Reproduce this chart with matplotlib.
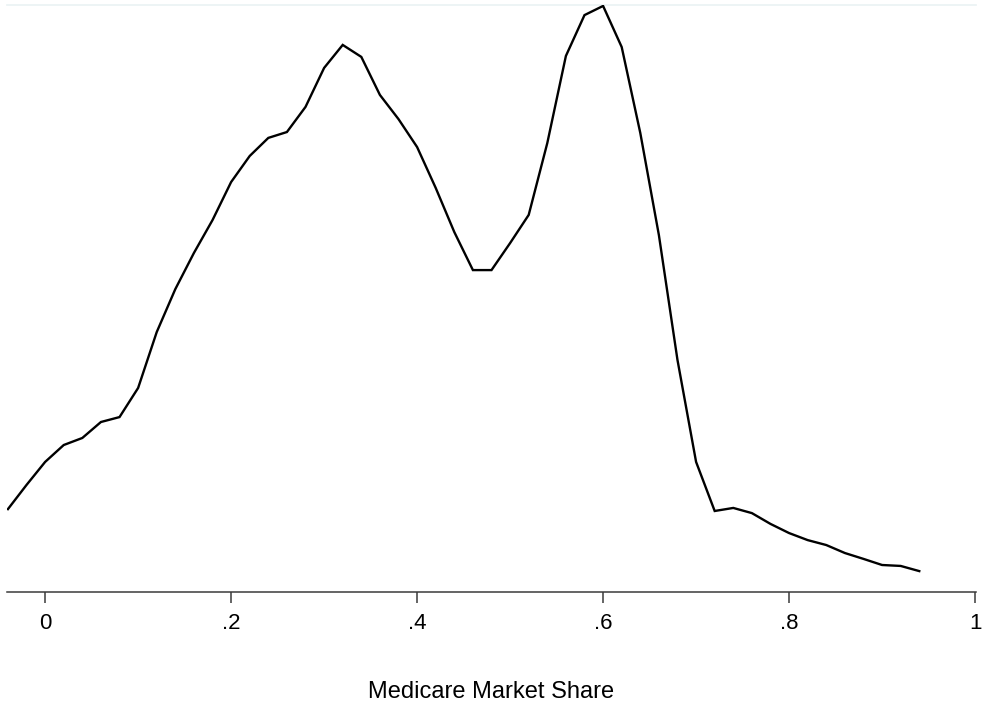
import matplotlib
matplotlib.use("Agg")
import matplotlib.pyplot as plt

# Medicare market share grid (x) and estimated density (y)
share = [-0.04, -0.02, 0.00, 0.02, 0.04, 0.06, 0.08, 0.10, 0.12, 0.14,
         0.16, 0.18, 0.20, 0.22, 0.24, 0.26, 0.28, 0.30, 0.32, 0.34,
         0.36, 0.38, 0.40, 0.42, 0.44, 0.46, 0.48, 0.50, 0.52, 0.54,
         0.56, 0.58, 0.60, 0.62, 0.64, 0.66, 0.68, 0.70, 0.72, 0.74,
         0.76, 0.78, 0.80, 0.82, 0.84, 0.86, 0.88, 0.90, 0.92, 0.94]
density = [0.353, 0.456, 0.554, 0.626, 0.656, 0.724, 0.745, 0.869, 1.107, 1.290,
           1.444, 1.584, 1.746, 1.857, 1.934, 1.959, 2.066, 2.232, 2.330, 2.279,
           2.117, 2.014, 1.895, 1.721, 1.533, 1.371, 1.371, 1.486, 1.606, 1.912,
           2.283, 2.457, 2.496, 2.321, 1.955, 1.520, 0.988, 0.554, 0.345, 0.358,
           0.336, 0.290, 0.251, 0.221, 0.200, 0.166, 0.141, 0.115, 0.111, 0.089]

xticks = [0, 0.2, 0.4, 0.6, 0.8, 1.0]
xtick_labels = ["0", ".2", ".4", ".6", ".8", "1"]
x_label = "Medicare Market Share"

plt.rcParams['font.family'] = ['Liberation Sans', 'DejaVu Sans']

W, H = 982, 709
fig = plt.figure(figsize=(W / 100, H / 100), dpi=100)
left_px, right_px, top_px, bottom_px = 7, 976, 5, 592
ax = fig.add_axes([left_px / W, (H - bottom_px) / H,
                   (right_px - left_px) / W, (bottom_px - top_px) / H])

ax.plot(share, density, color="black", lw=1.7, solid_joinstyle="miter")

ax.set_xlim(-0.041, 1.001)
ax.set_ylim(0, 2.5)
ax.axhline(2.5, color="#EAF2F3", lw=1.2, zorder=0, clip_on=False)

for s in ["left", "right", "top"]:
    ax.spines[s].set_visible(False)
ax.spines["bottom"].set_color("#3a3a3a")
ax.spines["bottom"].set_linewidth(1.1)

ax.set_yticks([])
ax.set_xticks(xticks)
ax.set_xticklabels(xtick_labels, fontsize=16)
ax.tick_params(axis="x", length=8, width=1.1, color="#3a3a3a", pad=7,
               labelcolor="black")

ax.set_xlabel(x_label, fontsize=17)
ax.xaxis.set_label_coords(0.5, -0.152)
ax.xaxis.label.set_va("top")

fig.savefig("out.png", dpi=100, facecolor="white")
